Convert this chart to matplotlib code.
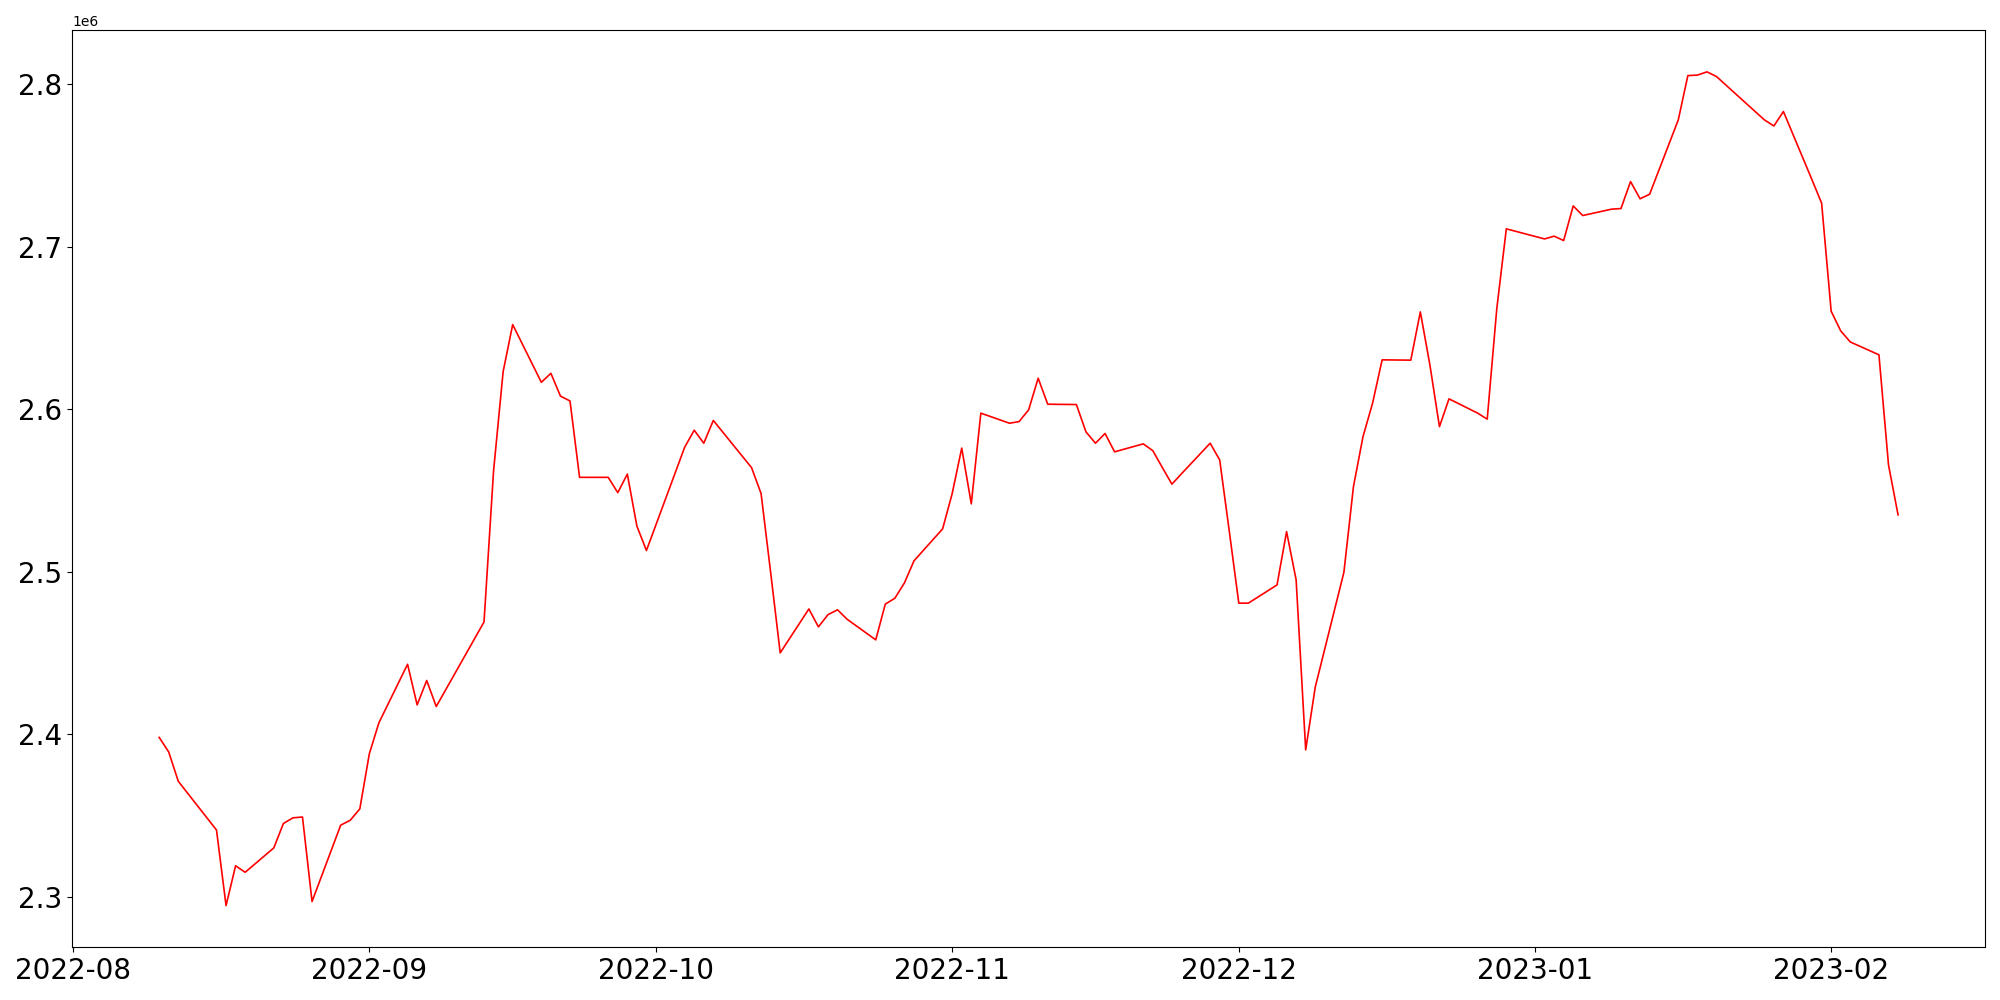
import matplotlib
matplotlib.use('Agg')
import matplotlib.pyplot as plt
import pandas as pd

# trading days (KRX calendar, holidays skipped)
dates = [
    '2022-08-10', '2022-08-11', '2022-08-12', '2022-08-16', '2022-08-17', '2022-08-18', '2022-08-19',
    '2022-08-22', '2022-08-23', '2022-08-24', '2022-08-25', '2022-08-26',
    '2022-08-29', '2022-08-30', '2022-08-31', '2022-09-01', '2022-09-02',
    '2022-09-05', '2022-09-06', '2022-09-07', '2022-09-08',
    '2022-09-13', '2022-09-14', '2022-09-15', '2022-09-16',
    '2022-09-19', '2022-09-20', '2022-09-21', '2022-09-22', '2022-09-23',
    '2022-09-26', '2022-09-27', '2022-09-28', '2022-09-29', '2022-09-30',
    '2022-10-04', '2022-10-05', '2022-10-06', '2022-10-07',
    '2022-10-11', '2022-10-12', '2022-10-13', '2022-10-14',
    '2022-10-17', '2022-10-18', '2022-10-19', '2022-10-20', '2022-10-21',
    '2022-10-24', '2022-10-25', '2022-10-26', '2022-10-27', '2022-10-28',
    '2022-10-31', '2022-11-01', '2022-11-02', '2022-11-03', '2022-11-04',
    '2022-11-07', '2022-11-08', '2022-11-09', '2022-11-10', '2022-11-11',
    '2022-11-14', '2022-11-15', '2022-11-16', '2022-11-17', '2022-11-18',
    '2022-11-21', '2022-11-22', '2022-11-23', '2022-11-24', '2022-11-25',
    '2022-11-28', '2022-11-29', '2022-11-30', '2022-12-01', '2022-12-02',
    '2022-12-05', '2022-12-06', '2022-12-07', '2022-12-08', '2022-12-09',
    '2022-12-12', '2022-12-13', '2022-12-14', '2022-12-15', '2022-12-16',
    '2022-12-19', '2022-12-20', '2022-12-21', '2022-12-22', '2022-12-23',
    '2022-12-26', '2022-12-27', '2022-12-28', '2022-12-29',
    '2023-01-02', '2023-01-03', '2023-01-04', '2023-01-05', '2023-01-06',
    '2023-01-09', '2023-01-10', '2023-01-11', '2023-01-12', '2023-01-13',
    '2023-01-16', '2023-01-17', '2023-01-18', '2023-01-19', '2023-01-20',
    '2023-01-25', '2023-01-26', '2023-01-27', '2023-01-30', '2023-01-31',
    '2023-02-01', '2023-02-02', '2023-02-03', '2023-02-06', '2023-02-07', '2023-02-08',
]

values = [
    2398000, 2389000, 2371000, 2341000, 2294500, 2319000, 2315000,
    2330000, 2345000, 2348500, 2349000, 2297000,
    2344000, 2347000, 2354000, 2388000, 2407000,
    2443000, 2418000, 2433000, 2417000,
    2469000, 2562000, 2623000, 2652000,
    2616500, 2622000, 2608000, 2605000, 2558000,
    2558000, 2548600, 2560000, 2528000, 2513000,
    2576500, 2587000, 2579000, 2593000,
    2564000, 2548000, 2499500, 2450000,
    2477000, 2466000, 2473500, 2476500, 2470700,
    2458000, 2480000, 2483600, 2493000, 2506600,
    2526300, 2548000, 2576000, 2541700, 2597500,
    2591300, 2592300, 2599500, 2619000, 2603000,
    2602800, 2586000, 2579000, 2585000, 2573700,
    2578600, 2574400, 2564000, 2553800, 2560200,
    2579000, 2568700, 2525000, 2480600, 2480600,
    2491800, 2524600, 2494900, 2390300, 2428900,
    2499600, 2552300, 2583100, 2603600, 2630300,
    2630100, 2659800, 2627200, 2589200, 2606300,
    2597500, 2593800, 2661700, 2710900,
    2704700, 2706400, 2703700, 2725000, 2719100,
    2723000, 2723400, 2740000, 2729400, 2732200,
    2778000, 2805200, 2805500, 2807500, 2804600,
    2778000, 2774200, 2783100, 2741000, 2726700,
    2660200, 2648100, 2641300, 2633400, 2565700, 2534900,
]

x = pd.to_datetime(dates)

fig, ax = plt.subplots(figsize=(20, 10), dpi=100)
ax.plot(x, values, color='red', linewidth=1.2)
plt.xticks(fontsize=20)
plt.yticks(fontsize=20)
plt.tight_layout()
plt.savefig('out.png')
